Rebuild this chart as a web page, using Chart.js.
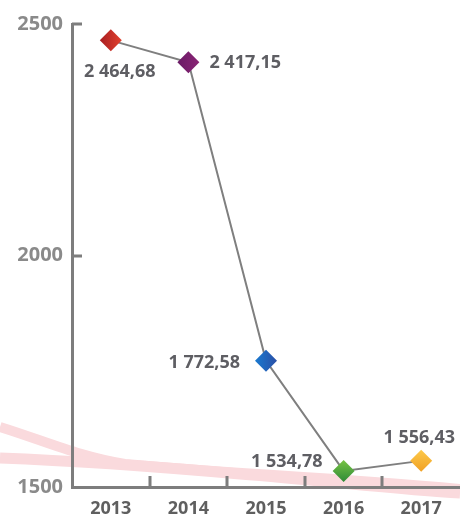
<!DOCTYPE html>
<html>
<head>
<meta charset="utf-8">
<script src="https://cdn.jsdelivr.net/npm/chart.js@4.4.1/dist/chart.umd.min.js"></script>
<style>
  html, body { margin: 0; padding: 0; background: #ffffff; }
  #wrap { width: 460px; height: 518px; position: relative; }
</style>
</head>
<body>
<div id="wrap"><canvas id="chart"></canvas></div>
<script>
// Yearly values
const years = ['2013', '2014', '2015', '2016', '2017'];
const values = [2464.68, 2417.15, 1772.58, 1534.78, 1556.43];
const yTicks = [1500, 2000, 2500];

// Marker shading: start colour, end colour, gradient direction
const markerShades = [
  { from: '#a81e22', to: '#e2412d', dir: 'h' },
  { from: '#6a1b66', to: '#8a2475', dir: 'h' },
  { from: '#1a7ad0', to: '#2a4fa6', dir: 'h' },
  { from: '#78c444', to: '#2f8a37', dir: 'v' },
  { from: '#fdc94a', to: '#f0a024', dir: 'v' }
];

// Where each value label sits relative to its marker
const labelPlacement = [
  { dx: 9, dy: 32, align: 'center' },
  { dx: 21, dy: 1, align: 'left' },
  { dx: -26, dy: 2, align: 'right' },
  { dx: -21, dy: -9, align: 'right' },
  { dx: -2, dy: -23, align: 'center' }
];

const LABEL_FONT = '700 18px "Open Sans"';
const AXIS_COLOR = '#7d7d7d';
const MARKER_RADIUS = 11;

function formatValue(v) {
  const parts = v.toFixed(2).split('.');
  const intPart = parts[0].replace(/\B(?=(\d{3})+(?!\d))/g, ' ');
  return intPart + ',' + parts[1];
}

function markerFill(context) {
  const chart = context.chart;
  const i = context.dataIndex;
  const shade = markerShades[i];
  const sx = chart.scales.x, sy = chart.scales.y;
  if (!sx || !sy || sx.width === undefined) return shade.from;
  const px = sx.getPixelForValue(i);
  const py = sy.getPixelForValue(values[i]);
  if (!isFinite(px) || !isFinite(py)) return shade.from;
  const r = MARKER_RADIUS;
  const g = shade.dir === 'h'
    ? chart.ctx.createLinearGradient(px - r, py, px + r, py)
    : chart.ctx.createLinearGradient(px, py - r, px, py + r);
  g.addColorStop(0, shade.from);
  g.addColorStop(1, shade.to);
  return g;
}

// Soft pink ribbons behind the plot
const ribbons = {
  id: 'ribbons',
  beforeDraw(chart) {
    const { ctx, chartArea } = chart;
    const yb = chartArea.bottom;
    const w = chart.width;
    ctx.save();
    ctx.strokeStyle = '#fadadd';
    ctx.lineCap = 'butt';
    ctx.lineWidth = 10;
    ctx.beginPath();
    ctx.moveTo(0, yb - 60);
    ctx.bezierCurveTo(45, yb - 46, 80, yb - 30, 125, yb - 23);
    ctx.bezierCurveTo(220, yb - 14, 330, yb - 10, w, yb + 2);
    ctx.stroke();
    ctx.lineWidth = 11;
    ctx.beginPath();
    ctx.moveTo(0, yb - 29);
    ctx.bezierCurveTo(80, yb - 26, 160, yb - 20, 240, yb - 13);
    ctx.bezierCurveTo(320, yb - 7, 400, yb + 3, w, yb + 6);
    ctx.stroke();
    ctx.restore();
  }
};

// Short tick marks pointing into the plot area
const innerTicks = {
  id: 'innerTicks',
  afterDraw(chart) {
    const { ctx, chartArea, scales } = chart;
    const x = scales.x, y = scales.y;
    ctx.save();
    ctx.strokeStyle = AXIS_COLOR;
    ctx.lineWidth = 3;
    ctx.beginPath();
    for (let i = 0; i < years.length - 1; i++) {
      const px = Math.round((x.getPixelForValue(i) + x.getPixelForValue(i + 1)) / 2);
      ctx.moveTo(px, chartArea.bottom);
      ctx.lineTo(px, chartArea.bottom - 11);
    }
    yTicks.forEach(t => {
      if (t === y.min) return;
      const py = Math.round(y.getPixelForValue(t));
      ctx.moveTo(chartArea.left, py);
      ctx.lineTo(chartArea.left + 10, py);
    });
    ctx.stroke();
    ctx.restore();
  }
};

// Value labels beside each marker
const valueLabels = {
  id: 'valueLabels',
  afterDatasetsDraw(chart) {
    const { ctx } = chart;
    const meta = chart.getDatasetMeta(0);
    ctx.save();
    ctx.font = LABEL_FONT;
    ctx.fillStyle = '#5e5e63';
    ctx.textBaseline = 'middle';
    meta.data.forEach((pt, i) => {
      const p = labelPlacement[i];
      ctx.textAlign = p.align;
      ctx.fillText(formatValue(values[i]), pt.x + p.dx, pt.y + p.dy);
    });
    ctx.restore();
  }
};

new Chart(document.getElementById('chart'), {
  type: 'line',
  data: {
    labels: years,
    datasets: [{
      data: values,
      borderColor: '#7f7f7f',
      borderWidth: 2,
      pointStyle: 'rectRot',
      pointRadius: MARKER_RADIUS,
      pointHoverRadius: MARKER_RADIUS,
      pointBackgroundColor: markerFill,
      pointBorderWidth: 0,
      tension: 0,
      clip: false
    }]
  },
  options: {
    responsive: true,
    maintainAspectRatio: false,
    animation: false,
    events: [],
    layout: { autoPadding: false, padding: { top: 24, right: 0, left: 0, bottom: 0 } },
    plugins: { legend: { display: false }, tooltip: { enabled: false } },
    scales: {
      x: {
        type: 'category',
        offset: true,
        grid: { display: false, drawTicks: false },
        border: { display: true, color: AXIS_COLOR, width: 3 },
        ticks: {
          color: '#5f5f5f',
          font: { family: 'Open Sans', size: 18, weight: '700' },
          padding: 11,
          maxRotation: 0
        },
        afterFit(scale) {
          scale.height = 31;
          scale.paddingLeft = 0;
          scale.paddingRight = 0;
        }
      },
      y: {
        min: 1500,
        max: 2500,
        afterBuildTicks(scale) { scale.ticks = yTicks.map(v => ({ value: v })); },
        grid: { display: false, drawTicks: false },
        border: { display: true, color: AXIS_COLOR, width: 3 },
        ticks: {
          color: '#8a8a8a',
          font: { family: 'Open Sans', size: 20, weight: '700' },
          padding: 9,
          callback: v => String(v)
        },
        afterFit(scale) { scale.width = 72; }
      }
    }
  },
  plugins: [ribbons, innerTicks, valueLabels]
});
</script>
</body>
</html>
